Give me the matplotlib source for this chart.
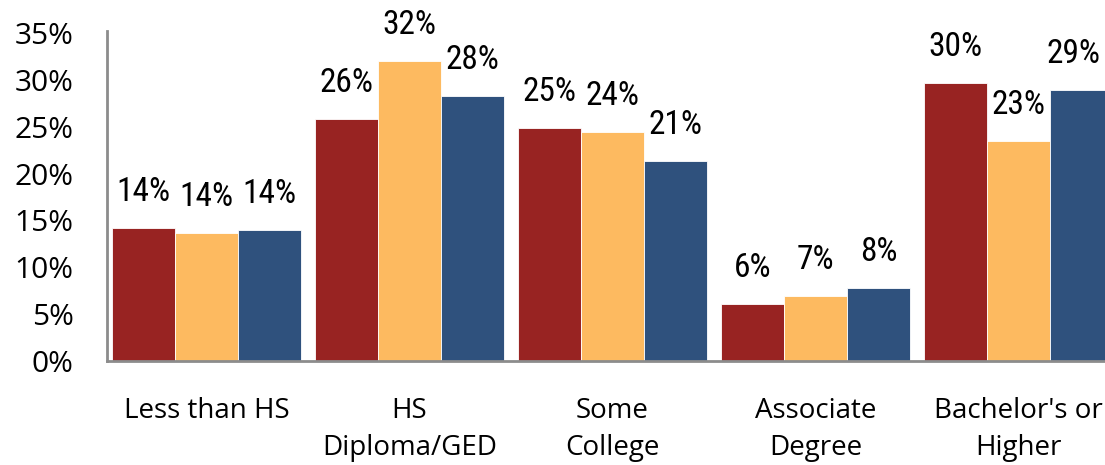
import matplotlib
matplotlib.use("Agg")
import matplotlib.pyplot as plt
import numpy as np
from matplotlib.transforms import offset_copy
from matplotlib import font_manager as fm

categories = ["Less than HS", "HS\nDiploma/GED", "Some\nCollege", "Associate\nDegree", "Bachelor's or\nHigher"]
series_a = [14.2, 25.8, 24.9, 6.05, 29.7]
series_b = [13.7, 32.0, 24.4, 6.9, 23.5]
series_c = [14.0, 28.3, 21.3, 7.76, 28.9]
labels_a = ["14%", "26%", "25%", "6%", "30%"]
labels_b = ["14%", "32%", "24%", "7%", "23%"]
labels_c = ["14%", "28%", "21%", "8%", "29%"]
yticks = [0, 5, 10, 15, 20, 25, 30, 35]

colors = ["#982322", "#FDBA60", "#2F517D"]
tick_font = "Open Sans"

names = {f.name for f in fm.fontManager.ttflist}
narrow = next((n for n in ["Liberation Sans Narrow", "Roboto Condensed", "Open Sans Condensed"] if n in names), None)
if narrow:
    label_font, label_size = [narrow, "DejaVu Sans"], 24
else:
    label_font, label_size = ["Open Sans", "DejaVu Sans"], 19

W, H = 1105, 465
fig = plt.figure(figsize=(W / 100, H / 100), dpi=100)
ax = fig.add_axes([107 / W, (H - 361) / H, (1105 - 107) / W, (361 - 33) / H])

x = np.arange(len(categories))
bw = 63 / 203
series = [series_a, series_b, series_c]
labels = [labels_a, labels_b, labels_c]
texts = []
for i, (vals, labs) in enumerate(zip(series, labels)):
    pos = x + (i - 1) * bw
    ax.bar(pos, vals, width=bw, color=colors[i], edgecolor="white", linewidth=0.6, zorder=2)
    for px, v, lab in zip(pos, vals, labs):
        t = offset_copy(ax.transData, fig=fig, x=0, y=36 * 0.72, units="points")
        texts.append(ax.text(px, v, lab, transform=t, ha="center", va="center",
                             fontsize=label_size, family=label_font, color="black",
                             clip_on=False))

ax.set_xlim(-0.49, (1105 - 206.5) / 203)
ax.set_ylim(0, 35)
ax.set_yticks(yticks)
ax.set_yticklabels([f"{v}%" for v in yticks], family=tick_font, fontsize=21.5)
ax.tick_params(axis="y", length=0, pad=24)
ax.set_xticks([])
for c, name in zip(x, categories):
    ax.text(c, -3.8, name, ha="center", va="top", fontsize=20, family=tick_font,
            linespacing=1.45, clip_on=False)

for s in ["top", "right"]:
    ax.spines[s].set_visible(False)
ax.spines["left"].set_color("#8c8c8c")
ax.spines["left"].set_linewidth(2)
ax.spines["bottom"].set_color("#8c8c8c")
ax.spines["bottom"].set_linewidth(2)
ax.spines["left"].set_bounds(0, 35.2)

# keep data labels inside the figure (as the reference nudges the last one)
fig.canvas.draw()
r = fig.canvas.get_renderer()
for t in texts:
    bb = t.get_window_extent(r)
    over = bb.x1 - (W - 4)
    if over > 0:
        t.set_transform(offset_copy(t.get_transform(), fig=fig, x=-over, y=0, units="dots"))

fig.savefig("out.png", dpi=100)
